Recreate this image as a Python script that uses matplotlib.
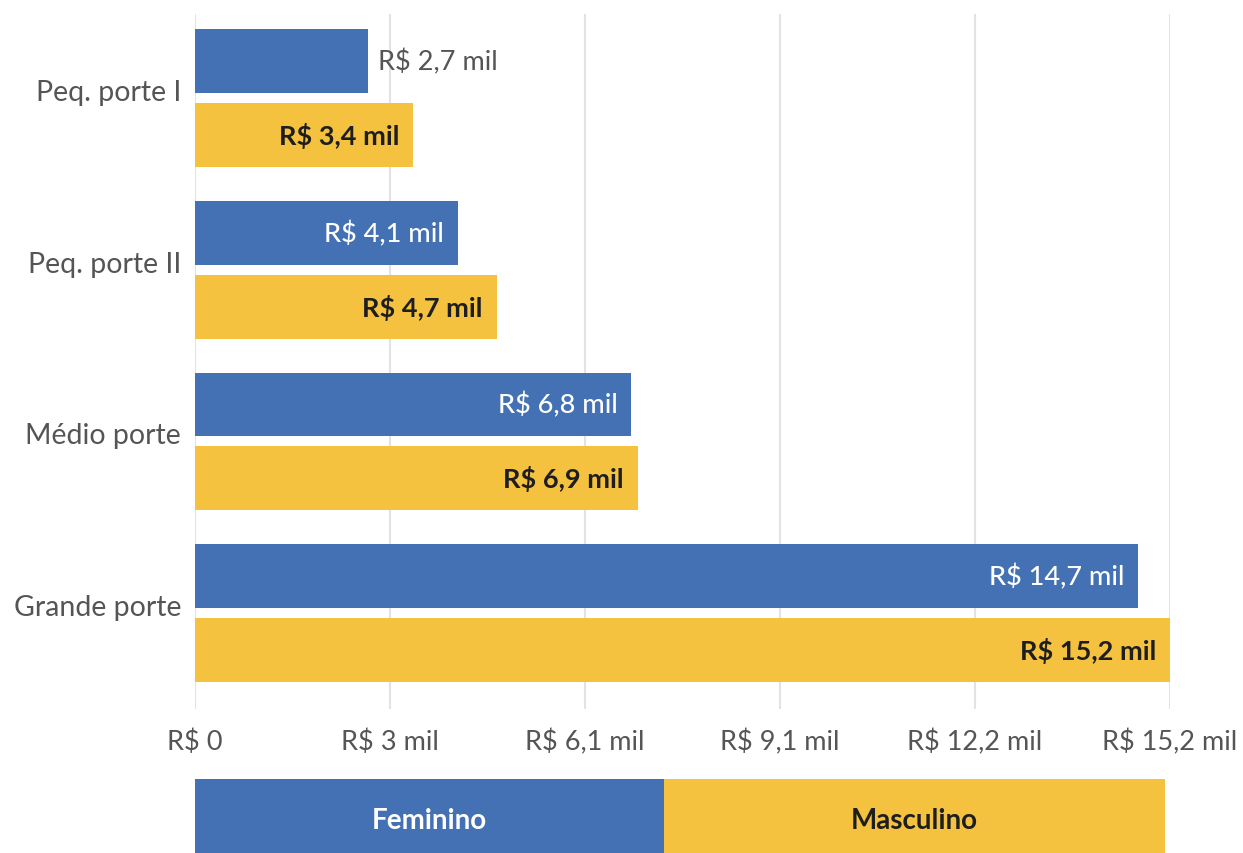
import numpy as np
import matplotlib.pyplot as plt

# dados
categorias = ["Peq. porte I", "Peq. porte II", "Médio porte", "Grande porte"]
feminino = [2.7, 4.1, 6.8, 14.7]
masculino = [3.4, 4.7, 6.9, 15.2]
rotulos_f = ["R$ 2,7 mil", "R$ 4,1 mil", "R$ 6,8 mil", "R$ 14,7 mil"]
rotulos_m = ["R$ 3,4 mil", "R$ 4,7 mil", "R$ 6,9 mil", "R$ 15,2 mil"]
ticks = [0, 3.04, 6.08, 9.12, 12.16, 15.2]
tick_labels = ["R$ 0", "R$ 3 mil", "R$ 6,1 mil", "R$ 9,1 mil", "R$ 12,2 mil", "R$ 15,2 mil"]
series = ["Feminino", "Masculino"]

azul = "#4371b4"
amarelo = "#f5c23f"
cinza = "#555555"
escuro = "#1e1e1e"

plt.rcParams["font.family"] = ["Lato", "DejaVu Sans"]

fig = plt.figure(figsize=(12.43, 8.54), dpi=100)
ax = fig.add_axes([0.1569, 0.1686, 0.7844, 0.8138])

y = np.arange(len(categorias))
h = 0.372
off = 0.215
ax.barh(y - off, feminino, height=h, color=azul, zorder=3)
ax.barh(y + off, masculino, height=h, color=amarelo, zorder=3)

for yi, v, t in zip(y, feminino, rotulos_f):
    if v < 3:
        ax.annotate(t, (v, yi - off), xytext=(7, 0), textcoords="offset points",
                    ha="left", va="center", fontsize=19.5, color=cinza, zorder=4)
    else:
        ax.annotate(t, (v, yi - off), xytext=(-10, 0), textcoords="offset points",
                    ha="right", va="center", fontsize=19.5, color="white",
                    fontweight="medium", zorder=4)
for yi, v, t in zip(y, masculino, rotulos_m):
    ax.annotate(t, (v, yi + off), xytext=(-10, 0), textcoords="offset points",
                ha="right", va="center", fontsize=19.5, color=escuro,
                fontweight="bold", zorder=4)

ax.set_xlim(0, 15.2)
ax.set_ylim(3.558, -0.488)
ax.set_xticks(ticks)
ax.set_xticklabels(tick_labels, fontsize=19.5, color=cinza)
ax.set_yticks(y - 0.05)
ax.set_yticklabels(categorias, fontsize=20.5, color=cinza)
ax.tick_params(length=0, pad=10)
ax.tick_params(axis="x", pad=14)
ax.xaxis.grid(True, color="#e3e3e3", linewidth=1.5, zorder=0)
for s in ax.spines.values():
    s.set_visible(False)

# legenda proporcional aos totais
lg = fig.add_axes([0.1569, 0.0, 0.7804, 0.0867])
tot = [sum(feminino), sum(masculino)]
lg.barh(0, tot[0], height=1, color=azul)
lg.barh(0, tot[1], left=tot[0], height=1, color=amarelo)
lg.text(tot[0] / 2, -0.06, series[0], ha="center", va="center", fontsize=20,
        color="white", fontweight="bold")
lg.text(tot[0] + tot[1] / 2, -0.06, series[1], ha="center", va="center", fontsize=20,
        color=escuro, fontweight="bold")
lg.set_xlim(0, sum(tot))
lg.set_ylim(-0.5, 0.5)
lg.axis("off")

fig.savefig("out.png", dpi=100)
